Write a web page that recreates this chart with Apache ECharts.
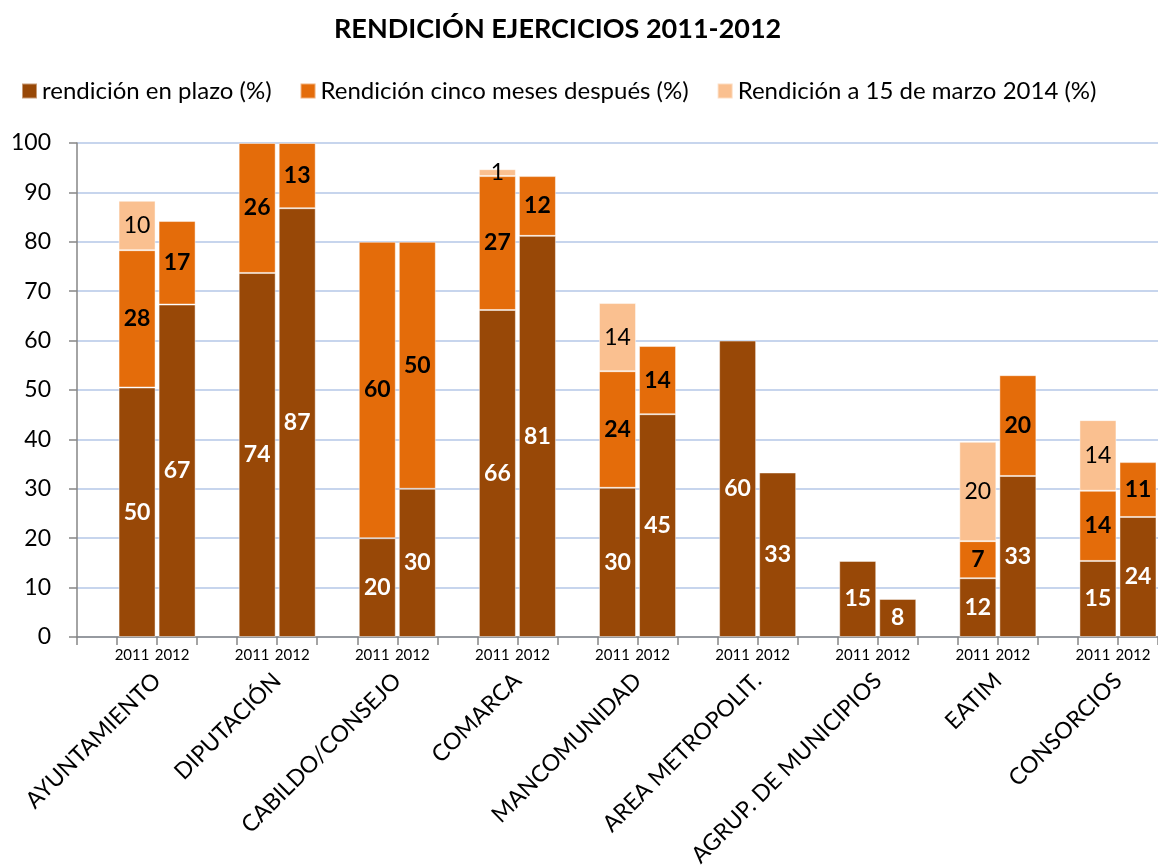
<!DOCTYPE html>
<html>

<head>
    <meta charset="utf-8">
    <script src="https://cdn.jsdelivr.net/npm/echarts@6/dist/echarts.min.js"></script>
</head>

<body>
    <div id="chart"></div>
</body>
<style>
    body {
        margin: 0;
    }

    #chart {
        width: 1158px;
        height: 866px;
        background: #fff;
    }
</style>
<script>
    // datos
    const groups = ['AYUNTAMIENTO', 'DIPUTACIÓN', 'CABILDO/CONSEJO', 'COMARCA', 'MANCOMUNIDAD',
        'AREA METROPOLIT.', 'AGRUP. DE MUNICIPIOS', 'EATIM', 'CONSORCIOS']
    const years = ['2011', '2012']
    const seriesNames = ['rendición en plazo (%)', 'Rendición cinco meses después (%)', 'Rendición a 15 de marzo 2014 (%)']

    // un valor por barra: 2011, 2012 de cada grupo
    const enPlazo = [50.5, 67.3, 73.7, 86.8, 20, 30, 66.2, 81.2, 30.2, 45.1, 60, 33.3, 15.4, 7.7, 11.9, 32.6, 15.4, 24.3]
    const cincoMeses = [27.8, 16.9, 26.3, 13.2, 60, 50, 27.1, 12.1, 23.6, 13.8, 0, 0, 0, 0, 7.5, 20.4, 14.2, 11.1]
    const marzo2014 = [10, 0, 0, 0, 0, 0, 1.4, 0, 13.8, 0, 0, 0, 0, 0, 20.1, 0, 14.3, 0]
    // etiquetas que muestra el grafico
    const lblPlazo = [50, 67, 74, 87, 20, 30, 66, 81, 30, 45, 60, 33, 15, 8, 12, 33, 15, 24]
    const lblCinco = [28, 17, 26, 13, 60, 50, 27, 12, 24, 14, null, null, null, null, 7, 20, 14, 11]
    const lblMarzo = [10, null, null, null, null, null, 1, null, 14, null, null, null, null, null, 20, null, 14, null]

    const colors = ['#984807', '#E46C0A', '#FAC090']
    const font = 'Lato'

    // cada grupo: hueco, 2011, 2012
    let cats = []
    let toCats = (arr) => {
        let out = []
        groups.forEach((g, i) => {
            out.push('-')
            out.push(arr[i * 2] || '-')
            out.push(arr[i * 2 + 1] || '-')
        })
        return out
    }
    groups.forEach(() => {
        cats.push('')
        years.forEach(y => cats.push(y))
    })

    const chart = echarts.init(document.getElementById('chart'))

    let makeSeries = (idx, values, labels, labelColor, weight) => {
        let lbl = toCats(labels)
        return {
            name: seriesNames[idx],
            type: 'bar',
            stack: 'total',
            barWidth: 37,
            data: toCats(values),
            itemStyle: {
                color: colors[idx],
                borderColor: 'rgba(255,255,255,0.45)',
                borderWidth: 1
            },
            label: {
                show: true,
                position: 'inside',
                fontFamily: font,
                fontSize: 23,
                fontWeight: weight,
                color: labelColor,
                formatter: p => lbl[p.dataIndex] === '-' ? '' : lbl[p.dataIndex]
            }
        }
    }

    let option = {
        animation: false,
        title: {
            text: 'RENDICIÓN EJERCICIOS 2011-2012',
            left: 329,
            top: 11,
            textStyle: {
                fontFamily: font,
                fontSize: 27,
                fontWeight: 'bold',
                color: '#000'
            }
        },
        legend: {
            left: 16,
            top: 74,
            icon: 'rect',
            itemWidth: 15,
            itemHeight: 15,
            itemGap: 28,
            data: seriesNames,
            textStyle: {
                fontFamily: font,
                fontSize: 24,
                color: '#000'
            }
        },
        grid: {
            left: 77,
            right: 0,
            top: 143,
            bottom: 229,
            outerBoundsMode: 'none'
        },
        xAxis: [
            {
                type: 'category',
                data: cats,
                axisLine: { lineStyle: { color: '#868686', width: 1.5 } },
                axisTick: { show: true, interval: 0, length: 8, lineStyle: { color: '#868686', width: 1.5 } },
                axisLabel: {
                    interval: 0,
                    margin: 11,
                    fontFamily: font,
                    fontSize: 15,
                    color: '#000',
                    padding: [0, 10, 0, 0]
                }
            },
            {
                type: 'value',
                min: 0,
                max: 27,
                position: 'bottom',
                axisLine: { show: false },
                axisTick: { show: false },
                splitLine: { show: false },
                axisLabel: {
                    customValues: groups.map((g, i) => i * 3 + 2),
                    formatter: v => groups[Math.round((v - 2) / 3)],
                    rotate: 45,
                    margin: 40,
                    fontFamily: font,
                    fontSize: 23,
                    color: '#000'
                }
            }
        ],
        yAxis: {
            type: 'value',
            min: 0,
            max: 100,
            interval: 10,
            axisLine: { show: true, lineStyle: { color: '#868686', width: 1.5 } },
            axisTick: { show: true, length: 8, lineStyle: { color: '#868686', width: 1.5 } },
            axisLabel: {
                margin: 26,
                fontFamily: font,
                fontSize: 23,
                color: '#000'
            },
            splitLine: { lineStyle: { color: '#B4C7E7', width: 1.5 } }
        },
        series: [
            makeSeries(0, enPlazo, lblPlazo, '#fff', 'bold'),
            makeSeries(1, cincoMeses, lblCinco, '#000', 'bold'),
            makeSeries(2, marzo2014, lblMarzo, '#000', 'normal')
        ]
    }
    chart.setOption(option)
</script>

</html>
